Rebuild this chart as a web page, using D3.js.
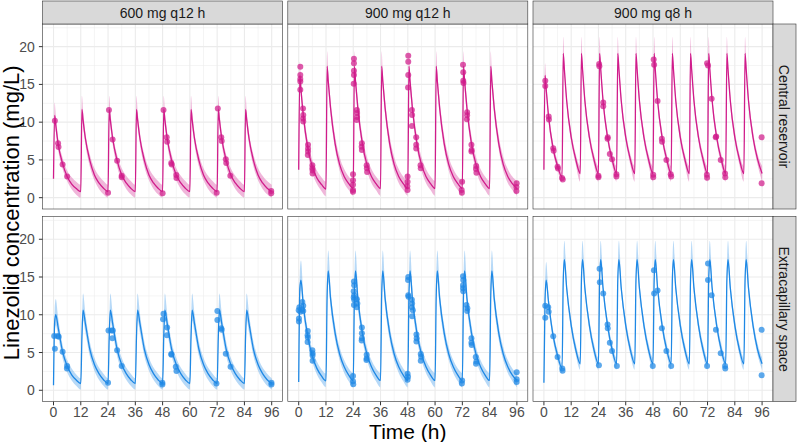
<!DOCTYPE html>
<html>
<head>
<meta charset="utf-8">
<script src="https://cdn.jsdelivr.net/npm/d3@7"></script>
<style>
body { margin: 0; background: #fff; }
svg text { font-family: "Liberation Sans", Arial, sans-serif; }
</style>
</head>
<body>
<svg id="chart" width="797" height="442"></svg>
<script>
const regimens = ["600 mg q12 h", "900 mg q12 h", "900 mg q8 h"];
const sites = ["Central reservoir", "Extracapillary space"];
const doseTau = [12, 12, 8];
const endTime = 96;
const xTicks = [0, 12, 24, 36, 48, 60, 72, 84, 96];
const yTicks = [0, 5, 10, 15, 20];

// predicted profiles, rows: [time after dose (h), median, lower, upper]
// first dose interval (starts at t = 0)
const central600First = [[0, 2.5, 2.5, 2.5], [0.5, 10.9, 10.1, 12.6], [1, 9.6, 8.8, 10.9], [2, 7.2, 6.4, 8.0],
  [4, 4.5, 3.8, 5.3], [6, 2.8, 2.2, 3.6], [8, 1.8, 1.1, 2.7], [10, 1.2, 0.4, 2.1], [12, 0.8, 0.0, 1.7]];
const central600Steady = [[0.5, 11.7, 10.9, 13.5], [1, 10.3, 9.5, 11.5], [2, 7.9, 7.1, 8.7], [4, 4.9, 4.1, 5.7],
  [6, 3.0, 2.3, 3.9], [8, 1.95, 1.15, 2.9], [10, 1.25, 0.45, 2.2], [12, 0.8, 0.0, 1.7]];

const central900q12First = [[0, 3.7, 3.7, 3.7], [0.5, 16.2, 15.2, 18.0], [1, 14.3, 13.3, 15.4], [2, 11.0, 10.1, 12.0],
  [4, 6.6, 5.8, 7.5], [6, 4.1, 3.3, 5.0], [8, 2.6, 1.8, 3.6], [10, 1.75, 0.9, 2.7], [12, 1.15, 0.2, 2.1]];
const central900q12Steady = [[0.5, 17.4, 16.4, 19.4], [1, 15.4, 14.4, 16.6], [2, 11.9, 11.0, 13.0], [4, 7.2, 6.4, 8.2],
  [6, 4.4, 3.6, 5.4], [8, 2.8, 1.95, 3.8], [10, 1.85, 1.0, 2.8], [12, 1.2, 0.25, 2.2]];

const central900q8First = [[0, 3.7, 3.7, 3.7], [0.5, 16.2, 15.3, 17.8], [1, 14.4, 13.6, 15.3], [2, 10.9, 10.2, 11.7],
  [4, 6.6, 6.0, 7.3], [6, 4.2, 3.6, 4.9], [8, 2.7, 2.0, 3.4]];
const central900q8Steady = [[0.5, 19.1, 18.2, 21.3], [1, 17.0, 16.2, 18.0], [2, 12.9, 12.2, 13.7], [4, 8.0, 7.4, 8.8],
  [6, 5.1, 4.4, 5.8], [8, 3.2, 2.1, 4.2]];

const extra600First = [[0, 0.65, 0.65, 0.65], [0.5, 9.0, 7.6, 10.6], [1, 10.0, 8.6, 12.1], [2, 8.4, 7.2, 9.7],
  [4, 5.1, 4.2, 6.0], [6, 3.2, 2.4, 4.0], [8, 2.05, 1.3, 2.9], [10, 1.35, 0.6, 2.1], [12, 0.9, 0.1, 1.6]];
const extra600Steady = [[0.5, 7.0, 5.8, 8.5], [1, 10.6, 9.2, 12.8], [2, 8.9, 7.7, 10.2], [4, 5.4, 4.5, 6.4],
  [6, 3.4, 2.6, 4.3], [8, 2.2, 1.4, 3.0], [10, 1.4, 0.6, 2.2], [12, 0.9, 0.1, 1.6]];

const extra900q12First = [[0, 1.1, 1.1, 1.1], [0.5, 13.5, 11.8, 15.5], [1, 14.6, 13.2, 17.2], [2, 11.3, 10.2, 12.6],
  [4, 7.1, 6.2, 8.1], [6, 4.5, 3.7, 5.4], [8, 2.9, 2.1, 3.8], [10, 1.9, 1.1, 2.8], [12, 1.25, 0.4, 2.2]];
const extra900q12Steady = [[0.5, 12.5, 10.8, 14.5], [1, 15.8, 14.3, 18.5], [2, 12.2, 11.0, 13.6], [4, 7.6, 6.7, 8.6],
  [6, 4.8, 4.0, 5.7], [8, 3.1, 2.3, 4.0], [10, 2.0, 1.2, 2.9], [12, 1.3, 0.4, 2.3]];

const extra900q8First = [[0, 1.0, 1.0, 1.0], [0.5, 12.0, 10.8, 13.4], [1, 14.6, 13.6, 17.0], [2, 11.8, 11.0, 12.7],
  [4, 7.3, 6.6, 8.0], [6, 4.6, 3.9, 5.3], [8, 2.9, 2.2, 3.6]];
const extra900q8Steady = [[0.5, 14.5, 13.3, 16.0], [1, 17.3, 16.3, 19.8], [2, 13.6, 12.8, 14.5], [4, 8.6, 7.9, 9.4],
  [6, 5.4, 4.7, 6.2], [8, 3.5, 2.7, 4.3]];

// observed concentrations [time (h), mg/L]
const central600Obs = [[0.6, 10.2], [2.0, 7.2], [2.2, 6.7], [4.0, 4.4], [6.0, 2.8],
  [24.0, 0.65], [24.4, 11.6], [26.0, 7.7], [28.0, 4.9], [30.0, 2.9], [30.0, 2.7],
  [48.0, 0.6], [48.4, 11.6], [49.8, 8.0], [50.0, 7.4], [51.8, 4.6], [52.0, 4.4], [54.0, 3.0], [54.1, 2.6],
  [71.8, 0.66], [72.3, 11.8], [73.8, 8.0], [74.0, 7.5], [75.8, 5.1], [76.0, 4.6], [77.8, 2.9],
  [95.8, 0.9], [95.8, 0.6]];

const central900q12Obs = [[0.7, 17.35], [0.7, 16.25], [0.7, 15.7], [0.7, 15.4], [0.7, 14.3],
  [1.9, 11.8], [2.0, 10.95], [1.9, 10.5], [2.0, 10.1], [4.1, 7.0], [4.1, 6.5], [4.1, 6.1], [4.0, 5.65],
  [6.0, 4.3], [6.0, 3.9], [6.1, 3.6], [6.1, 3.2],
  [23.9, 3.1], [23.9, 2.3], [23.9, 1.7], [23.9, 1.0], [23.9, 0.8],
  [24.3, 18.4], [24.3, 17.8], [24.3, 16.8], [24.3, 16.25], [24.2, 15.1],
  [25.6, 11.6], [25.7, 11.2], [25.7, 10.7], [25.5, 10.3], [27.8, 7.2], [27.7, 6.75], [27.8, 6.3],
  [29.9, 4.3], [30.0, 3.9], [30.1, 3.4],
  [47.9, 2.8], [47.9, 2.1], [47.8, 1.5], [47.9, 1.0],
  [48.2, 18.8], [48.2, 18.0], [48.2, 16.25], [48.1, 14.6], [49.8, 11.6], [49.9, 10.95], [49.8, 9.5],
  [51.7, 8.0], [51.7, 7.0], [51.7, 6.5], [53.6, 4.3], [53.7, 3.9],
  [71.9, 2.1], [71.7, 1.0], [71.8, 0.66],
  [72.3, 17.6], [72.4, 16.6], [72.4, 15.5], [72.5, 15.2], [74.1, 11.3], [74.1, 10.9], [74.0, 10.4],
  [76.0, 7.0], [76.1, 6.3], [76.0, 6.1], [78.1, 4.2], [78.0, 3.8], [78.2, 3.3],
  [95.9, 1.9], [95.8, 1.4], [95.8, 0.9]];

const central900q8Obs = [[0.6, 15.5], [0.6, 14.8], [2.1, 10.75], [2.2, 10.35], [4.1, 6.55], [4.3, 6.2],
  [6.0, 4.1], [6.2, 3.85], [8.0, 2.6], [8.3, 2.4],
  [24.0, 2.9], [24.0, 2.7], [24.3, 17.7], [24.4, 17.4], [26.1, 12.6], [26.1, 12.1], [28.1, 8.0], [28.0, 7.8],
  [29.0, 5.8], [30.0, 5.1], [31.9, 3.1], [31.9, 2.8],
  [48.1, 3.05], [48.1, 2.7], [48.3, 18.3], [48.5, 17.6], [50.0, 12.8], [51.9, 7.8], [52.0, 7.4],
  [53.9, 5.0], [55.8, 3.1], [56.0, 2.8],
  [71.7, 3.05], [71.8, 2.65], [71.8, 17.8], [72.2, 17.5], [73.8, 13.1], [75.8, 8.1], [75.6, 8.0],
  [77.8, 5.0], [79.7, 3.2], [79.8, 2.7],
  [95.8, 8.0], [95.8, 1.9]];

const extra600Obs = [[0.3, 7.2], [0.6, 5.5], [1.9, 7.2], [2.3, 7.1], [4.0, 5.1], [6.0, 3.2], [5.9, 2.9],
  [24.0, 1.0], [24.2, 7.9], [25.4, 7.9], [26.1, 7.9], [25.9, 6.9], [28.0, 5.3], [30.0, 3.2],
  [47.9, 1.0], [47.9, 0.75], [48.4, 10.15], [48.2, 9.4], [50.0, 8.3], [49.9, 7.3], [51.9, 4.7], [51.8, 4.8],
  [53.8, 3.1], [54.1, 2.56],
  [71.7, 0.9], [72.1, 10.5], [72.1, 9.3], [73.8, 8.2], [74.0, 8.0], [75.8, 4.85], [77.9, 3.1],
  [95.9, 1.0], [95.9, 0.75]];

const extra900q12Obs = [[0.0, 10.6], [0.3, 11.0], [0.7, 10.4], [0.1, 9.5], [0.1, 9.1],
  [1.6, 11.7], [2.0, 11.2], [1.5, 10.7], [2.0, 10.5], [4.0, 7.85], [3.9, 7.3], [4.0, 7.0], [3.9, 6.4],
  [6.0, 5.3], [6.1, 4.9], [6.1, 4.6], [6.1, 3.9],
  [23.9, 1.9], [23.9, 1.2], [24.0, 0.8],
  [24.3, 14.4], [24.4, 13.9], [24.2, 13.1], [24.4, 12.6], [24.2, 12.3], [24.4, 12.0], [24.3, 11.3],
  [25.6, 12.05], [25.8, 11.5], [25.6, 11.0], [27.8, 8.3], [27.8, 7.55], [27.8, 6.9], [27.7, 6.6],
  [29.9, 4.7], [29.9, 4.2], [29.8, 4.0],
  [47.9, 2.2], [48.1, 1.8], [47.9, 1.4],
  [48.2, 15.0], [48.1, 14.6], [48.2, 12.6], [48.3, 12.4], [49.8, 12.0], [49.9, 11.5], [49.8, 11.0],
  [50.2, 10.6], [49.9, 9.8], [51.8, 7.4], [51.9, 6.9], [51.8, 6.45], [53.7, 4.8], [53.9, 4.45], [53.7, 3.9],
  [71.9, 1.3], [71.8, 0.9],
  [72.3, 15.1], [72.4, 14.6], [72.3, 13.9], [72.3, 13.5], [72.4, 13.1], [73.8, 11.3], [74.2, 10.85], [74.1, 10.5],
  [76.0, 6.9], [76.0, 6.3], [76.1, 6.0], [77.9, 4.4], [78.2, 3.8], [78.0, 3.5],
  [95.9, 2.4], [95.9, 1.45], [95.9, 1.1]];

const extra900q8Obs = [[0.6, 11.2], [1.9, 11.0], [2.1, 10.4], [0.6, 9.6], [4.1, 7.15], [6.0, 4.4], [8.1, 2.9], [8.2, 2.6],
  [24.2, 3.3], [24.5, 16.1], [24.6, 14.3], [26.1, 12.8], [28.0, 8.7], [28.1, 8.2], [29.0, 6.3], [30.0, 5.2], [32.1, 3.2],
  [47.9, 3.2], [48.4, 15.9], [48.5, 12.8], [50.0, 13.2], [51.9, 8.2], [53.9, 5.2], [56.0, 3.2],
  [71.8, 3.2], [72.2, 16.8], [72.2, 14.6], [73.8, 12.6], [75.7, 8.0], [77.8, 4.9], [79.7, 3.2], [79.8, 2.9],
  [95.8, 8.0], [95.8, 2.0]];

const firstProfiles = [[central600First, central900q12First, central900q8First],
                       [extra600First, extra900q12First, extra900q8First]];
const steadyProfiles = [[central600Steady, central900q12Steady, central900q8Steady],
                        [extra600Steady, extra900q12Steady, extra900q8Steady]];
const observed = [[central600Obs, central900q12Obs, central900q8Obs],
                  [extra600Obs, extra900q12Obs, extra900q8Obs]];

const siteColors = ["#D01C8B", "#1E88E5"];

//////////////////////////////////////////////////////////////////////

const panelLeft = 42.6;
const panelW = 240;
const colGap = 5.2;
const rowTops = [24, 216.6];
const panelH = 185;
const stripSize = 23;
const tickLen = 3.7;

const svg = d3.select("#chart");

const x = d3.scaleLinear().domain([-4.8, 100.8]).range([0, panelW]);
const y = d3.scaleLinear().domain([-1.5, 23.0]).range([panelH, 0]);

const xMinor = [6, 18, 30, 42, 54, 66, 78, 90];
const yMinor = [2.5, 7.5, 12.5, 17.5, 22.5];

// places the steady-state profile after every later dose
function buildSeries(first, steady, tau) {
	const rows = first.map(r => r.slice());
	for (let dose = tau; dose < endTime; dose += tau) {
		for (const r of steady) {
			rows.push([dose + r[0], r[1], r[2], r[3]]);
		}
	}
	return rows;
}

const area = d3.area()
	.curve(d3.curveMonotoneX)
	.x(d => x(d[0]))
	.y0(d => y(d[2]))
	.y1(d => y(d[3]));

const line = d3.line()
	.curve(d3.curveMonotoneX)
	.x(d => x(d[0]))
	.y(d => y(d[1]));

sites.forEach(function(site, row) {
	regimens.forEach(function(regimen, col) {

		const left = panelLeft + col * (panelW + colGap);
		const top = rowTops[row];
		const g = svg.append("g").attr("transform", "translate(" + left + "," + top + ")");
		const clipId = "clip-" + row + "-" + col;

		g.append("clipPath").attr("id", clipId)
			.append("rect").attr("width", panelW).attr("height", panelH);

		g.append("rect").attr("width", panelW).attr("height", panelH).attr("fill", "#fff");

		// grid
		g.selectAll("line.minor-x").data(xMinor).join("line")
			.attr("x1", d => x(d)).attr("x2", d => x(d)).attr("y1", 0).attr("y2", panelH)
			.attr("stroke", "#EBEBEB").attr("stroke-width", 0.55);
		g.selectAll("line.minor-y").data(yMinor).join("line")
			.attr("x1", 0).attr("x2", panelW).attr("y1", d => y(d)).attr("y2", d => y(d))
			.attr("stroke", "#EBEBEB").attr("stroke-width", 0.55);
		g.selectAll("line.major-x").data(xTicks).join("line")
			.attr("x1", d => x(d)).attr("x2", d => x(d)).attr("y1", 0).attr("y2", panelH)
			.attr("stroke", "#EBEBEB").attr("stroke-width", 1.1);
		g.selectAll("line.major-y").data(yTicks).join("line")
			.attr("x1", 0).attr("x2", panelW).attr("y1", d => y(d)).attr("y2", d => y(d))
			.attr("stroke", "#EBEBEB").attr("stroke-width", 1.1);

		const series = buildSeries(firstProfiles[row][col], steadyProfiles[row][col], doseTau[col]);
		const color = siteColors[row];
		const marks = g.append("g").attr("clip-path", "url(#" + clipId + ")");

		marks.append("path").datum(series)
			.attr("d", area)
			.attr("fill", color).attr("fill-opacity", 0.32);

		marks.append("path").datum(series)
			.attr("d", line)
			.attr("fill", "none").attr("stroke", color).attr("stroke-width", 1.3);

		marks.selectAll("circle").data(observed[row][col]).join("circle")
			.attr("cx", d => x(d[0])).attr("cy", d => y(d[1])).attr("r", 3)
			.attr("fill", color).attr("fill-opacity", 0.72);

		g.append("rect").attr("width", panelW).attr("height", panelH)
			.attr("fill", "none").attr("stroke", "#333333").attr("stroke-width", 0.6);

		// top strips
		if (row === 0) {
			const s = svg.append("g").attr("transform", "translate(" + left + "," + (top - stripSize) + ")");
			s.append("rect").attr("width", panelW).attr("height", stripSize)
				.attr("fill", "#D9D9D9").attr("stroke", "#333333").attr("stroke-width", 0.6);
			s.append("text").attr("x", panelW / 2).attr("y", stripSize / 2).attr("dy", "0.36em")
				.attr("text-anchor", "middle").attr("font-size", 14).attr("fill", "#1A1A1A")
				.text(regimen);
		}

		// right strips
		if (col === regimens.length - 1) {
			const s = svg.append("g").attr("transform", "translate(" + (left + panelW) + "," + top + ")");
			s.append("rect").attr("width", stripSize).attr("height", panelH)
				.attr("fill", "#D9D9D9").attr("stroke", "#333333").attr("stroke-width", 0.6);
			s.append("text")
				.attr("transform", "translate(" + (stripSize / 2) + "," + (panelH / 2) + ") rotate(90)")
				.attr("dy", "0.36em")
				.attr("text-anchor", "middle").attr("font-size", 14).attr("fill", "#1A1A1A")
				.text(site);
		}

		// y axis on the first column
		if (col === 0) {
			const ax = g.append("g");
			ax.selectAll("line").data(yTicks).join("line")
				.attr("x1", -tickLen).attr("x2", 0).attr("y1", d => y(d)).attr("y2", d => y(d))
				.attr("stroke", "#333333").attr("stroke-width", 1);
			ax.selectAll("text").data(yTicks).join("text")
				.attr("x", -tickLen - 4).attr("y", d => y(d)).attr("dy", "0.36em")
				.attr("text-anchor", "end").attr("font-size", 14).attr("fill", "#4D4D4D")
				.text(d => d);
		}

		// x axis on the bottom row
		if (row === sites.length - 1) {
			const ax = g.append("g").attr("transform", "translate(0," + panelH + ")");
			ax.selectAll("line").data(xTicks).join("line")
				.attr("x1", d => x(d)).attr("x2", d => x(d)).attr("y1", 0).attr("y2", tickLen)
				.attr("stroke", "#333333").attr("stroke-width", 1);
			ax.selectAll("text").data(xTicks).join("text")
				.attr("x", d => x(d)).attr("y", tickLen + 11.5)
				.attr("text-anchor", "middle").attr("font-size", 14).attr("fill", "#4D4D4D")
				.text(d => d);
		}
	});
});

// axis titles
const plotRight = panelLeft + 3 * panelW + 2 * colGap;
svg.append("text")
	.attr("x", (panelLeft + plotRight) / 2).attr("y", 439)
	.attr("text-anchor", "middle").attr("font-size", 21).attr("fill", "#000")
	.text("Time (h)");

svg.append("text")
	.attr("transform", "translate(18.5," + ((rowTops[0] + rowTops[1] + panelH) / 2) + ") rotate(-90)")
	.attr("text-anchor", "middle").attr("font-size", 22).attr("fill", "#000")
	.text("Linezolid concentration (mg/L)");
</script>
</body>
</html>
